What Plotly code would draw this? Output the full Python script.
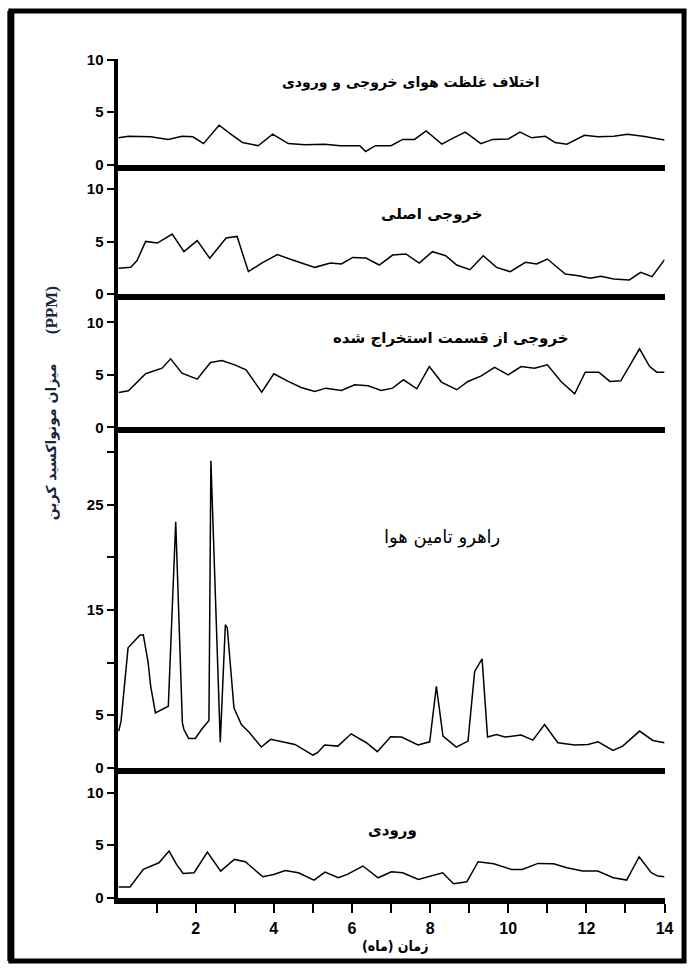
import plotly.graph_objects as go

# ---------------- data (months, ppm) ----------------
diff_m = [0.03, 0.28, 0.85, 1.3, 1.65, 1.93, 2.2, 2.6, 2.9, 3.2, 3.6, 3.97, 4.37, 4.8, 5.3, 5.7, 6.2, 6.35, 6.6, 7.0,
          7.3, 7.6, 7.9, 8.3, 8.6, 8.9, 9.3, 9.6, 10.0, 10.3, 10.6, 10.95, 11.2, 11.5, 11.95, 12.3, 12.7, 13.05, 13.45, 14.0]
diff_v = [2.56, 2.7, 2.65, 2.4, 2.7, 2.65, 2.0, 3.75, 2.9, 2.1, 1.8, 2.9, 2.0, 1.9, 1.95, 1.8, 1.8, 1.25, 1.8, 1.8,
          2.4, 2.4, 3.2, 1.95, 2.55, 3.1, 2.0, 2.4, 2.45, 3.1, 2.55, 2.7, 2.1, 1.95, 2.8, 2.65, 2.7, 2.9, 2.7, 2.35]

main_m = [0.03, 0.34, 0.5, 0.72, 1.02, 1.4, 1.7, 2.04, 2.36, 2.78, 3.06, 3.35, 3.69, 4.09, 4.48, 5.05, 5.45, 5.73,
          6.02, 6.36, 6.7, 7.04, 7.38, 7.72, 8.06, 8.4, 8.68, 9.02, 9.36, 9.7, 10.05, 10.44, 10.73, 11.0, 11.46,
          11.8, 12.1, 12.37, 12.7, 13.1, 13.39, 13.68, 14.0]
main_v = [2.47, 2.56, 3.2, 5.03, 4.87, 5.73, 4.05, 5.1, 3.42, 5.35, 5.5, 2.15, 2.97, 3.77, 3.26, 2.56, 2.97, 2.88,
          3.5, 3.45, 2.78, 3.73, 3.83, 2.97, 4.05, 3.67, 2.78, 2.34, 3.67, 2.56, 2.15, 3.04, 2.88, 3.35, 1.93,
          1.77, 1.52, 1.71, 1.46, 1.36, 2.09, 1.68, 3.29]

exh_m = [0.03, 0.28, 0.72, 1.14, 1.36, 1.65, 2.04, 2.38, 2.67, 3.0, 3.29, 3.69, 4.0, 4.37, 4.7, 5.05, 5.33, 5.73,
         6.07, 6.41, 6.75, 7.04, 7.32, 7.66, 7.98, 8.29, 8.68, 8.97, 9.31, 9.65, 10.0, 10.33, 10.67, 11.0, 11.35,
         11.7, 11.97, 12.32, 12.6, 12.88, 13.36, 13.62, 13.8, 14.0]
exh_v = [3.32, 3.48, 5.1, 5.63, 6.52, 5.16, 4.59, 6.17, 6.36, 5.95, 5.47, 3.35, 5.1, 4.37, 3.8, 3.42, 3.73, 3.51,
         4.05, 3.96, 3.51, 3.73, 4.53, 3.67, 5.79, 4.31, 3.58, 4.37, 4.9, 5.7, 5.0, 5.79, 5.63, 5.95, 4.37,
         3.2, 5.25, 5.25, 4.37, 4.43, 7.47, 5.79, 5.25, 5.25]

duct_m = [0.03, 0.09, 0.27, 0.57, 0.66, 0.78, 0.85, 0.97, 1.3, 1.49, 1.66, 1.7, 1.82, 1.99, 2.15, 2.34, 2.39, 2.63,
          2.76, 2.81, 2.98, 3.17, 3.38, 3.68, 3.92, 4.24, 4.54, 5.0, 5.12, 5.3, 5.64, 5.98, 6.37, 6.65, 6.99,
          7.27, 7.69, 7.99, 8.16, 8.33, 8.67, 8.97, 9.14, 9.33, 9.47, 9.7, 9.91, 10.33, 10.63, 10.93, 11.27,
          11.7, 12.04, 12.3, 12.68, 12.93, 13.36, 13.7, 14.0]
duct_v = [3.48, 4.4, 11.4, 12.6, 12.64, 10.1, 7.74, 5.21, 5.85, 23.4, 4.27, 3.63, 2.78, 2.78, 3.63, 4.49, 29.2, 2.43,
          13.6, 13.3, 5.69, 4.1, 3.32, 1.96, 2.69, 2.46, 2.21, 1.2, 1.42, 2.15, 2.05, 3.22, 2.37, 1.52, 2.94,
          2.91, 2.15, 2.46, 7.74, 3.0, 1.96, 2.53, 9.16, 10.36, 2.91, 3.16, 2.91, 3.1, 2.62, 4.1, 2.37,
          2.15, 2.21, 2.46, 1.64, 2.05, 3.48, 2.59, 2.37]

inl_m = [0.03, 0.32, 0.66, 0.94, 1.06, 1.32, 1.51, 1.68, 1.96, 2.3, 2.64, 2.99, 3.27, 3.72, 4.0, 4.29, 4.63, 5.03,
         5.31, 5.65, 5.88, 6.28, 6.67, 7.01, 7.3, 7.7, 7.98, 8.32, 8.6, 8.94, 9.23, 9.63, 10.08, 10.36, 10.76,
         11.16, 11.5, 11.9, 12.29, 12.69, 13.03, 13.35, 13.66, 13.83, 14.0]
inl_v = [1.02, 1.02, 2.7, 3.17, 3.33, 4.44, 3.17, 2.32, 2.38, 4.35, 2.54, 3.65, 3.43, 2.0, 2.22, 2.6, 2.38, 1.68,
         2.44, 1.9, 2.22, 3.02, 1.9, 2.47, 2.38, 1.75, 2.06, 2.38, 1.33, 1.52, 3.43, 3.24, 2.7, 2.7, 3.27,
         3.24, 2.86, 2.54, 2.54, 1.9, 1.68, 3.9, 2.38, 2.06, 2.0]

titles = ["اختلاف غلظت هوای خروجی و ورودی", "خروجی اصلی", "خروجی از قسمت استخراج شده",
          "راهرو تامین هوا", "ورودی"]
series = [(diff_m, diff_v), (main_m, main_v), (exh_m, exh_v), (duct_m, duct_v), (inl_m, inl_v)]
ytickvals = [[0, 5, 10], [0, 5, 10], [0, 5, 10], [0, 5, 10, 15, 20, 25, 30], [0, 5, 10]]
yticktext = [["0", "5", "10"], ["0", "5", "10"], ["0", "5", "10"],
             ["0", "5", "", "15", "", "25", ""], ["0", "5", "10"]]
xtickvals = list(range(1, 15))
xticktext = [str(v) if v % 2 == 0 else "" for v in xtickvals]
ytitle = "میزان مونواکسید کربن"
ytitle_unit = "(PPM)"
xtitle = "زمان (ماه)"

# ---------------- layout geometry ----------------
W, H = 696, 972
# the photographed page comes out slightly shrunk; place items so they land where wanted
SX, OX = 0.987, -0.5
SY, OY = 0.9827, 8.5
def tx(p): return (p - OX) / SX          # wanted screen x -> figure px
def ty(p): return (p - OY) / SY          # wanted screen y -> figure px
def xp(px): return px / W
def yp(py): return 1 - py / H

X_LEFT, X_RIGHT = tx(117), tx(664)
PPU = 10.5 / SY
bottoms = [ty(165), ty(294.5), ty(427.5), ty(767.5), ty(897.5)]
tops = [ty(59)] + [b + 6 for b in bottoms[:-1]]
panels = list(zip(tops, bottoms))
title_pos = [(410, 83, True, 14), (431, 214, True, 15), (450, 338, True, 15),
             (441, 537, False, 18), (392, 830, True, 15)]

fig = go.Figure()
layout = dict(
    width=W, height=H, margin=dict(l=0, r=0, t=0, b=0),
    paper_bgcolor="white", plot_bgcolor="white", showlegend=False,
)
tickfont = dict(family="Liberation Sans, Arial", size=15, color="black", weight="bold")
xtickfont = dict(family="Liberation Sans, Arial", size=16, color="black", weight="bold")
annotations = []
for i, ((mx, vy), (top, bot)) in enumerate(zip(series, panels)):
    n = i + 1
    xa = "x" if n == 1 else f"x{n}"
    ya = "y" if n == 1 else f"y{n}"
    fig.add_trace(go.Scatter(x=mx, y=vy, mode="lines", xaxis=xa, yaxis=ya,
                             line=dict(color="black", width=1.5), hoverinfo="skip"))
    last = (n == 5)
    layout["xaxis" if n == 1 else f"xaxis{n}"] = dict(
        domain=[xp(X_LEFT), xp(X_RIGHT)], range=[0, 14], anchor=ya,
        showline=True, linewidth=6, linecolor="black", showgrid=False, zeroline=False,
        ticks="outside" if last else "", ticklen=9, tickwidth=2, tickcolor="black",
        tickvals=xtickvals, ticktext=xticktext, showticklabels=last, tickfont=xtickfont,
        ticklabelstandoff=2, fixedrange=True,
    )
    layout["yaxis" if n == 1 else f"yaxis{n}"] = dict(
        domain=[yp(bot), yp(top)], range=[0, (bot - top) / PPU], anchor=xa,
        showline=True, linewidth=4, linecolor="black", showgrid=False, zeroline=False,
        ticks="outside", ticklen=7, tickwidth=2, tickcolor="black",
        tickvals=ytickvals[i], ticktext=yticktext[i], tickfont=tickfont, fixedrange=True,
    )
    cx, cy, bold, fs = title_pos[i]
    annotations.append(dict(
        text=titles[i], x=xp(tx(cx)), y=yp(ty(cy)), xref="paper", yref="paper", showarrow=False,
        xanchor="center", yanchor="middle",
        font=dict(family="DejaVu Sans", size=fs, color="black", weight="bold" if bold else "normal"),
    ))

annotations.append(dict(text=xtitle, x=xp(tx(394)), y=yp(ty(946)), xref="paper", yref="paper",
                        showarrow=False, xanchor="center", yanchor="middle",
                        font=dict(family="DejaVu Sans Condensed, DejaVu Sans", size=14,
                                  color="black", weight="bold")))
annotations.append(dict(text=ytitle, x=xp(tx(51)), y=yp(ty(442)), xref="paper", yref="paper",
                        showarrow=False, textangle=-90, xanchor="center", yanchor="middle",
                        font=dict(family="DejaVu Sans", size=14, color="#1b2440", weight="bold")))
annotations.append(dict(text=ytitle_unit, x=xp(tx(51)), y=yp(ty(311)), xref="paper", yref="paper",
                        showarrow=False, textangle=-90, xanchor="center", yanchor="middle",
                        font=dict(family="Liberation Serif", size=17, color="#1b2440", weight="bold")))
layout["annotations"] = annotations
layout["shapes"] = [
    dict(type="rect", xref="paper", yref="paper", x0=xp(11), x1=xp(693), y0=yp(969), y1=yp(3),
         line=dict(color="black", width=5)),
    dict(type="line", xref="paper", yref="paper", x0=xp(11), x1=xp(11), y0=yp(969), y1=yp(3),
         line=dict(color="black", width=7)),
]
fig.update_layout(**layout)

fit_js = (
    "document.documentElement.style.margin='0px';"
    "document.body.style.margin='0px';"
    "document.documentElement.style.overflow='hidden';"
    "document.body.style.overflow='hidden';"
    "var gd=document.getElementById('{plot_id}');"
    "Plotly.relayout(gd,{width:window.innerWidth,height:window.innerHeight});"
)
fig.write_html("out.html", config={"displayModeBar": False}, post_script=fit_js)
